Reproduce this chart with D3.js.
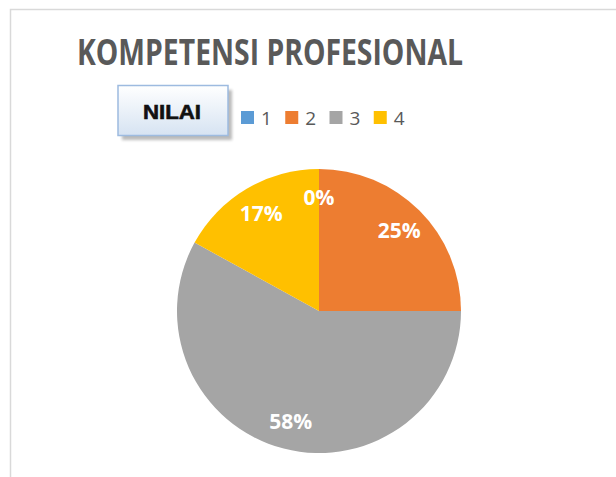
<!DOCTYPE html>
<html>
<head>
<meta charset="utf-8">
<script src="https://d3js.org/d3.v7.min.js"></script>
<style>
    body { margin: 0; background: #fff; }
</style>
</head>
<body>
<div id="my_dataviz"></div>
<script>

    // data
    var categories = ["1", "2", "3", "4"];
    var percents = [0, 25, 58, 17];
    var colors = ["#5b9bd5", "#ed7d31", "#a5a5a5", "#ffc000"];
    var title = "KOMPETENSI PROFESIONAL";
    var buttonLabel = "NILAI";

    var width = 616, height = 477;

    var svg = d3.select("#my_dataviz")
        .append("svg")
        .attr("width", width)
        .attr("height", height);

    var defs = svg.append("defs");
    var grad = defs.append("linearGradient")
        .attr("id", "btnGrad")
        .attr("x1", 0).attr("y1", 0).attr("x2", 0).attr("y2", 1);
    grad.append("stop").attr("offset", "0%").attr("stop-color", "#ffffff");
    grad.append("stop").attr("offset", "100%").attr("stop-color", "#d6e3f2");
    var blur = defs.append("filter").attr("id", "shadowBlur")
        .attr("x", "-20%").attr("y", "-20%").attr("width", "140%").attr("height", "140%");
    blur.append("feGaussianBlur").attr("stdDeviation", 1.5);

    // chart area border (cut off at right and bottom)
    svg.append("rect")
        .attr("x", 10.5)
        .attr("y", 9.5)
        .attr("width", width)
        .attr("height", height)
        .attr("fill", "none")
        .attr("stroke", "#d9d9d9")
        .attr("stroke-width", 1.5);

    // title
    svg.append("text")
        .attr("x", 270)
        .attr("y", 65)
        .attr("text-anchor", "middle")
        .attr("textLength", 386)
        .attr("lengthAdjust", "spacingAndGlyphs")
        .style("font-family", "'Open Sans', sans-serif")
        .style("font-weight", "bold")
        .style("font-size", "35px")
        .style("fill", "#595959")
        .text(title);

    // "NILAI" button shape
    var btn = svg.append("g");
    btn.append("rect")
        .attr("x", 122).attr("y", 90)
        .attr("width", 110).attr("height", 50)
        .attr("fill", "#8c8c8c")
        .attr("opacity", 0.6)
        .attr("filter", "url(#shadowBlur)");
    btn.append("rect")
        .attr("x", 118).attr("y", 85.5)
        .attr("width", 110).attr("height", 50)
        .attr("fill", "url(#btnGrad)")
        .attr("stroke", "#9dbbe0")
        .attr("stroke-width", 1.5);
    btn.append("text")
        .attr("x", 172)
        .attr("y", 118.5)
        .attr("text-anchor", "middle")
        .attr("textLength", 58)
        .attr("lengthAdjust", "spacingAndGlyphs")
        .style("font-family", "'Liberation Sans', Arial, sans-serif")
        .style("font-weight", "bold")
        .style("font-size", "20px")
        .style("fill", "#111")
        .style("stroke", "#111")
        .style("stroke-width", 0.6)
        .text(buttonLabel);

    // legend
    var legendX = d3.scaleBand()
        .domain(categories)
        .range([241, 418]);

    var legend = svg.selectAll(".legend")
        .data(categories)
        .enter()
        .append("g")
        .attr("class", "legend")
        .attr("transform", function(d) { return "translate(" + legendX(d) + ",111)"; });

    legend.append("rect")
        .attr("width", 13)
        .attr("height", 13)
        .attr("fill", function(d, i) { return colors[i]; });

    legend.append("text")
        .attr("x", 20)
        .attr("y", 13.5)
        .style("font-family", "'Open Sans', sans-serif")
        .style("font-size", "19px")
        .style("fill", "#595959")
        .text(function(d) { return d; });

    // pie
    var cx = 319, cy = 311, radius = 142;

    var pie = d3.pie()
        .sort(null)
        .value(function(d) { return d; });

    var arc = d3.arc()
        .innerRadius(0)
        .outerRadius(radius);

    var labelArc = d3.arc()
        .innerRadius(radius * 0.8)
        .outerRadius(radius * 0.8);

    var pieG = svg.append("g")
        .attr("transform", "translate(" + cx + "," + cy + ")");

    var slices = pie(percents);

    pieG.selectAll("path")
        .data(slices)
        .enter()
        .append("path")
        .attr("d", arc)
        .attr("fill", function(d, i) { return colors[i]; });

    pieG.selectAll(".label")
        .data(slices)
        .enter()
        .append("text")
        .attr("class", "label")
        .attr("transform", function(d) { return "translate(" + labelArc.centroid(d) + ")"; })
        .attr("dy", "0.36em")
        .attr("text-anchor", "middle")
        .style("font-family", "'Open Sans', sans-serif")
        .style("font-weight", "bold")
        .style("font-size", "21px")
        .style("fill", "#ffffff")
        .text(function(d) { return d.data + "%"; });

</script>
</body>
</html>
